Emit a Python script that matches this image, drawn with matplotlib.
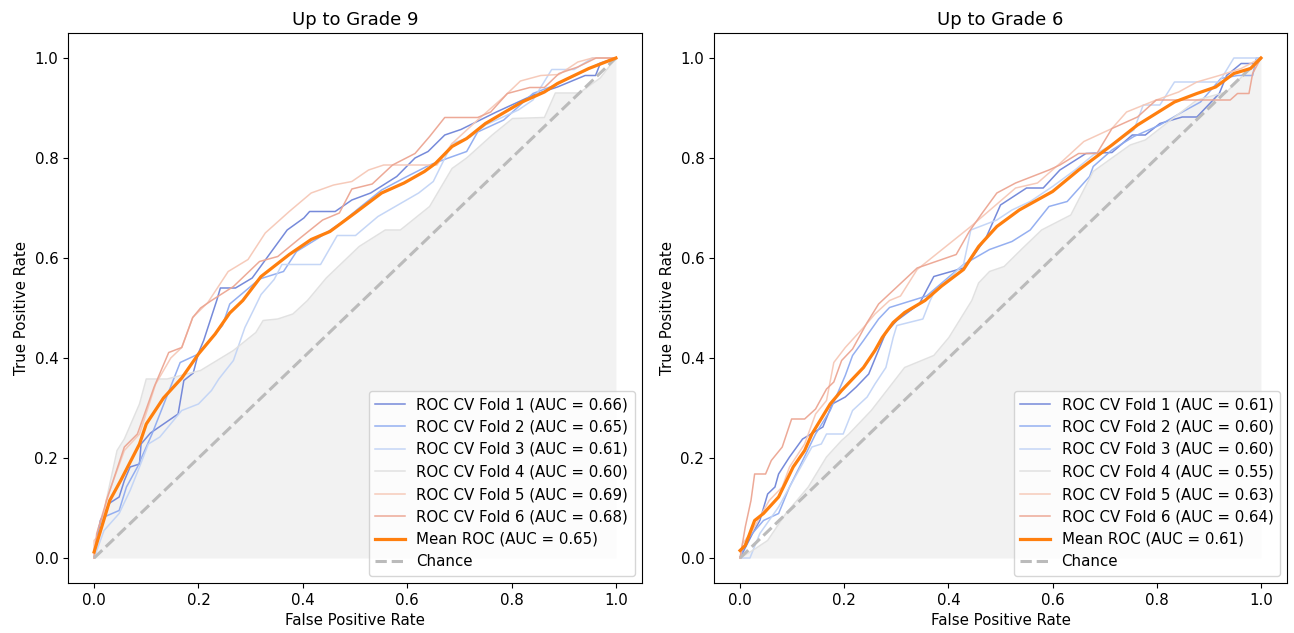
import matplotlib
matplotlib.use("Agg")
import matplotlib.pyplot as plt
import numpy as np

titles = ["Up to Grade 9", "Up to Grade 6"]

# ---- Left: Up to Grade 9 ----
g9_fpr = [
    [0, 0.005, 0.012, 0.03, 0.048, 0.058, 0.069, 0.087, 0.09, 0.108, 0.161, 0.172, 0.19, 0.2, 0.21, 0.235, 0.242, 0.271, 0.303, 0.37, 0.402, 0.413, 0.462, 0.494, 0.53, 0.58, 0.615, 0.64, 0.672, 0.703, 0.771, 0.842, 0.888, 0.941, 0.961, 0.97, 1.0],
    [0, 0.009, 0.019, 0.048, 0.062, 0.083, 0.111, 0.165, 0.2, 0.221, 0.246, 0.26, 0.317, 0.363, 0.388, 0.43, 0.473, 0.508, 0.551, 0.594, 0.643, 0.679, 0.714, 0.735, 0.785, 0.841, 0.884, 0.941, 0.97, 1.0],
    [0, 0.019, 0.048, 0.069, 0.087, 0.104, 0.126, 0.168, 0.2, 0.225, 0.239, 0.267, 0.289, 0.306, 0.32, 0.345, 0.36, 0.434, 0.466, 0.501, 0.544, 0.622, 0.65, 0.686, 0.721, 0.75, 0.813, 0.841, 0.877, 0.92, 0.955, 1.0],
    [0, 0.019, 0.026, 0.044, 0.058, 0.087, 0.1, 0.14, 0.204, 0.267, 0.31, 0.324, 0.352, 0.381, 0.409, 0.445, 0.508, 0.558, 0.587, 0.643, 0.686, 0.714, 0.763, 0.802, 0.863, 0.884, 0.93, 0.97, 1.0],
    [0, 0, 0.012, 0.023, 0.058, 0.087, 0.118, 0.147, 0.168, 0.189, 0.218, 0.257, 0.295, 0.328, 0.374, 0.416, 0.459, 0.494, 0.526, 0.555, 0.657, 0.686, 0.735, 0.785, 0.817, 0.856, 0.891, 0.927, 0.955, 1.0],
    [0, 0.005, 0.026, 0.058, 0.083, 0.115, 0.143, 0.168, 0.189, 0.204, 0.225, 0.267, 0.317, 0.352, 0.395, 0.438, 0.47, 0.494, 0.533, 0.572, 0.615, 0.643, 0.672, 0.735, 0.76, 0.792, 0.835, 0.863, 0.891, 0.927, 0.962, 1.0],
]
g9_tpr = [
    [0, 0.035, 0.075, 0.11, 0.122, 0.155, 0.182, 0.188, 0.228, 0.25, 0.288, 0.355, 0.37, 0.41, 0.435, 0.515, 0.54, 0.54, 0.56, 0.656, 0.68, 0.693, 0.693, 0.716, 0.73, 0.763, 0.80, 0.813, 0.846, 0.857, 0.892, 0.926, 0.942, 0.965, 0.965, 0.989, 1.0],
    [0, 0.062, 0.082, 0.095, 0.142, 0.182, 0.248, 0.391, 0.408, 0.435, 0.465, 0.508, 0.558, 0.573, 0.613, 0.64, 0.67, 0.70, 0.736, 0.76, 0.786, 0.80, 0.813, 0.852, 0.876, 0.929, 0.946, 0.975, 0.99, 1.0],
    [0, 0.055, 0.089, 0.135, 0.182, 0.228, 0.242, 0.295, 0.308, 0.335, 0.358, 0.395, 0.461, 0.497, 0.527, 0.557, 0.587, 0.587, 0.645, 0.645, 0.683, 0.73, 0.753, 0.829, 0.842, 0.866, 0.896, 0.916, 0.977, 0.977, 1.0, 1.0],
    [0, 0.089, 0.128, 0.215, 0.238, 0.308, 0.358, 0.358, 0.375, 0.415, 0.451, 0.475, 0.478, 0.488, 0.515, 0.56, 0.623, 0.656, 0.656, 0.703, 0.779, 0.80, 0.846, 0.879, 0.881, 0.93, 0.93, 0.96, 1.0],
    [0, 0.035, 0.049, 0.115, 0.215, 0.248, 0.348, 0.40, 0.421, 0.481, 0.511, 0.573, 0.597, 0.65, 0.693, 0.73, 0.746, 0.753, 0.776, 0.786, 0.786, 0.829, 0.876, 0.922, 0.954, 0.965, 0.967, 0.992, 1.0, 1.0],
    [0, 0.049, 0.122, 0.222, 0.248, 0.342, 0.411, 0.421, 0.481, 0.50, 0.515, 0.543, 0.593, 0.603, 0.64, 0.676, 0.69, 0.738, 0.748, 0.786, 0.809, 0.843, 0.881, 0.881, 0.892, 0.929, 0.941, 0.941, 0.969, 0.982, 1.0, 1.0],
]
g9_auc = [0.66, 0.65, 0.61, 0.60, 0.69, 0.68]
g9_mean_fpr = [0, 0.03, 0.051, 0.087, 0.10, 0.133, 0.168, 0.2, 0.232, 0.26, 0.285, 0.32, 0.374, 0.416, 0.452, 0.50, 0.551, 0.594, 0.633, 0.654, 0.686, 0.714, 0.75, 0.82, 0.863, 0.888, 0.948, 1.0]
g9_mean_tpr = [0.012, 0.115, 0.155, 0.228, 0.268, 0.32, 0.36, 0.408, 0.448, 0.49, 0.515, 0.563, 0.607, 0.637, 0.653, 0.69, 0.73, 0.75, 0.773, 0.789, 0.823, 0.839, 0.869, 0.912, 0.932, 0.949, 0.979, 1.0]
g9_mean_auc = 0.65

# ---- Right: Up to Grade 6 ----
g6_fpr = [
    [0, 0.024, 0.038, 0.053, 0.067, 0.074, 0.095, 0.12, 0.159, 0.177, 0.202, 0.223, 0.247, 0.26, 0.28, 0.301, 0.344, 0.372, 0.429, 0.443, 0.472, 0.50, 0.55, 0.582, 0.614, 0.664, 0.714, 0.753, 0.778, 0.806, 0.849, 0.877, 0.92, 0.934, 0.962, 0.991, 1.0],
    [0, 0.012, 0.045, 0.074, 0.095, 0.117, 0.145, 0.173, 0.202, 0.216, 0.237, 0.266, 0.287, 0.358, 0.429, 0.479, 0.522, 0.557, 0.593, 0.628, 0.671, 0.678, 0.714, 0.756, 0.806, 0.849, 0.884, 0.923, 0.955, 0.984, 0.991, 1.0],
    [0, 0.019, 0.038, 0.074, 0.102, 0.138, 0.156, 0.166, 0.198, 0.216, 0.244, 0.259, 0.28, 0.294, 0.301, 0.351, 0.365, 0.372, 0.429, 0.443, 0.493, 0.522, 0.557, 0.6, 0.643, 0.678, 0.714, 0.756, 0.774, 0.806, 0.834, 0.92, 0.948, 1.0],
    [0, 0.024, 0.053, 0.088, 0.131, 0.166, 0.195, 0.209, 0.252, 0.287, 0.316, 0.372, 0.401, 0.445, 0.458, 0.479, 0.507, 0.543, 0.579, 0.635, 0.678, 0.714, 0.749, 0.778, 0.827, 0.877, 0.934, 1.0],
    [0, 0.005, 0.024, 0.038, 0.056, 0.081, 0.095, 0.124, 0.145, 0.166, 0.18, 0.202, 0.237, 0.259, 0.287, 0.308, 0.34, 0.443, 0.529, 0.571, 0.614, 0.66, 0.714, 0.742, 0.799, 0.842, 0.877, 0.92, 0.962, 1.0],
    [0, 0.01, 0.021, 0.028, 0.049, 0.06, 0.081, 0.099, 0.124, 0.145, 0.166, 0.18, 0.195, 0.216, 0.244, 0.266, 0.34, 0.415, 0.44, 0.465, 0.493, 0.529, 0.593, 0.614, 0.65, 0.685, 0.714, 0.763, 0.799, 0.941, 0.955, 0.977, 0.984, 1.0],
]
g6_tpr = [
    [0, 0.049, 0.075, 0.128, 0.142, 0.168, 0.202, 0.238, 0.262, 0.308, 0.322, 0.342, 0.368, 0.401, 0.451, 0.475, 0.508, 0.563, 0.58, 0.597, 0.64, 0.706, 0.74, 0.74, 0.776, 0.809, 0.811, 0.846, 0.846, 0.869, 0.882, 0.882, 0.929, 0.965, 0.989, 0.989, 1.0],
    [0, 0.035, 0.075, 0.089, 0.142, 0.188, 0.248, 0.295, 0.365, 0.405, 0.435, 0.478, 0.501, 0.524, 0.587, 0.617, 0.633, 0.656, 0.703, 0.713, 0.763, 0.783, 0.816, 0.843, 0.866, 0.892, 0.912, 0.959, 0.965, 0.965, 1.0, 1.0],
    [0, 0, 0.049, 0.102, 0.155, 0.222, 0.228, 0.248, 0.248, 0.295, 0.322, 0.348, 0.381, 0.441, 0.465, 0.478, 0.515, 0.53, 0.587, 0.656, 0.676, 0.696, 0.713, 0.743, 0.776, 0.806, 0.826, 0.856, 0.906, 0.906, 0.952, 0.952, 1.0, 1.0],
    [0, 0.015, 0.035, 0.089, 0.142, 0.202, 0.235, 0.248, 0.295, 0.342, 0.381, 0.405, 0.441, 0.515, 0.55, 0.573, 0.583, 0.62, 0.656, 0.686, 0.773, 0.80, 0.826, 0.836, 0.876, 0.916, 0.932, 1.0],
    [0, 0.029, 0.055, 0.082, 0.115, 0.142, 0.182, 0.228, 0.288, 0.315, 0.391, 0.421, 0.461, 0.488, 0.515, 0.524, 0.577, 0.663, 0.74, 0.75, 0.789, 0.833, 0.859, 0.892, 0.916, 0.932, 0.952, 0.965, 0.979, 1.0],
    [0, 0.062, 0.115, 0.168, 0.168, 0.195, 0.222, 0.278, 0.278, 0.298, 0.338, 0.352, 0.395, 0.418, 0.471, 0.508, 0.58, 0.607, 0.653, 0.69, 0.73, 0.75, 0.776, 0.786, 0.809, 0.809, 0.859, 0.882, 0.916, 0.916, 0.929, 0.929, 0.969, 1.0],
]
g6_auc = [0.61, 0.60, 0.60, 0.55, 0.63, 0.64]
g6_mean_fpr = [0, 0.01, 0.028, 0.045, 0.074, 0.102, 0.124, 0.138, 0.173, 0.195, 0.237, 0.259, 0.273, 0.294, 0.316, 0.355, 0.387, 0.429, 0.458, 0.493, 0.536, 0.6, 0.65, 0.714, 0.763, 0.834, 0.877, 0.913, 0.948, 0.98, 1.0]
g6_mean_tpr = [0.015, 0.025, 0.075, 0.089, 0.122, 0.182, 0.215, 0.248, 0.308, 0.335, 0.381, 0.415, 0.441, 0.471, 0.491, 0.515, 0.544, 0.577, 0.623, 0.663, 0.696, 0.733, 0.776, 0.826, 0.866, 0.912, 0.929, 0.942, 0.969, 0.979, 1.0]
g6_mean_auc = 0.61

fold_colors = ['#6f84d8', '#8fabf0', '#c2d4f6', '#e0e0e0', '#f6c8b7', '#eca592']
SCALE = 1.08

fig = plt.figure(figsize=(12.94, 6.33), dpi=100)
ax_pos = [
    [68 / 1294, 50 / 633, 574 / 1294, 550 / 633],
    [714 / 1294, 50 / 633, 573 / 1294, 550 / 633],
]
panels = [
    (g9_fpr, g9_tpr, g9_auc, g9_mean_fpr, g9_mean_tpr, g9_mean_auc),
    (g6_fpr, g6_tpr, g6_auc, g6_mean_fpr, g6_mean_tpr, g6_mean_auc),
]

for pos, title, (fprs, tprs, aucs, mfpr, mtpr, mauc) in zip(ax_pos, titles, panels):
    ax = fig.add_axes(pos)
    # shaded area under lowest fold (fold 4)
    ax.fill_between(fprs[3], 0, tprs[3], color='#f2f2f2', lw=0, zorder=0)
    for i, (f, t, a) in enumerate(zip(fprs, tprs, aucs)):
        ax.plot(f, t, color=fold_colors[i], lw=1.1, alpha=0.95,
                label=f"ROC CV Fold {i + 1} (AUC = {a:.2f})", zorder=2)
    ax.plot(mfpr, mtpr, color='#ff7f0e', lw=2.3,
            label=f"Mean ROC (AUC = {mauc:.2f})", zorder=4)
    ax.plot([0, 1], [0, 1], linestyle='--', color='#bbbbbb', lw=2.2,
            label='Chance', zorder=3)
    ax.set_xlim(-0.05, 1.05)
    ax.set_ylim(-0.05, 1.05)
    ax.set_xticks([0, 0.2, 0.4, 0.6, 0.8, 1.0])
    ax.set_yticks([0, 0.2, 0.4, 0.6, 0.8, 1.0])
    ax.tick_params(labelsize=10 * SCALE)
    ax.set_xlabel("False Positive Rate", fontsize=10 * SCALE)
    ax.set_ylabel("True Positive Rate", fontsize=10 * SCALE)
    ax.set_title(title, fontsize=12 * SCALE)
    ax.legend(loc='lower right', fontsize=10 * SCALE)

fig.savefig("out.png", dpi=100)
